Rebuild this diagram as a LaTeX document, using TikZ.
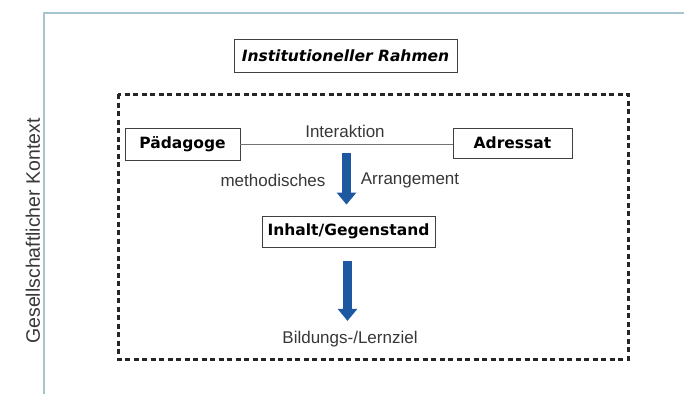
\documentclass[tikz,border=0pt]{standalone}
\usepackage{fontspec}
\setmainfont{Liberation Sans}
\newfontfamily\boxfont{DejaVu Sans}
\usetikzlibrary{arrows.meta}
\definecolor{framecol}{RGB}{165,198,208}
\definecolor{arrowblue}{RGB}{30,88,160}
\definecolor{textgray}{RGB}{55,55,55}

\begin{document}
\begin{tikzpicture}[x=1pt, y=-1pt]
\tikzstyle{box}=[draw=black!75, line width=0.8pt, inner sep=0pt, font=\boxfont\bfseries\fontsize{15.5}{18}\selectfont]
\tikzstyle{label}=[text=textgray, inner sep=1pt, font=\fontsize{17}{20}\selectfont]
\tikzstyle{bigarrow}=[draw=arrowblue, line width=9pt, -{Triangle[width=19pt, length=12pt]}]

\useasboundingbox (0,0) rectangle (684,394);

% Frame
\draw[framecol, line width=1.2pt] (44,394) -- (44,13) -- (684,13);
\node at (33,231) [rotate=90, text=textgray, font=\fontsize{19.5}{22}\selectfont] (kontext) {Gesellschaftlicher Kontext};

% Boxes
\node at (345.5,55.5) [box, minimum width=223pt, minimum height=33pt] (rahmen) {\itshape Institutioneller Rahmen};
\draw[black!85, line width=3pt, dash pattern=on 5pt off 3.5pt] (118,94) rectangle (628,359);
\node at (182.5,144) [box, minimum width=115pt, minimum height=32pt] (paed) {Pädagoge};
\node at (512.5,143) [box, minimum width=119pt, minimum height=30pt] (adressat) {Adressat};
\node at (348.5,231.5) [box, minimum width=173pt, minimum height=31pt] (inhalt) {Inhalt/Gegenstand};

% Text
\node at (345,131) [label] (interaktion) {Interaktion};
\node at (273,180) [label] (method) {methodisches};
\node at (410,180) [label] (arrangement) {Arrangement};
\node at (350,339) [label] (ziel) {Bildungs-/Lernziel};

% Lines
\draw[black!55, line width=0.8pt] (paed.east) -- (paed.east -| adressat.west);
\coordinate (arrowone) at (346.5,153);
\coordinate (arrowtwo) at (347.5,261);
\draw[bigarrow] (arrowone) -- ([yshift=11pt]arrowone |- inhalt.north);
\draw[bigarrow] (arrowtwo) -- ([yshift=9pt]arrowtwo |- ziel.north);
\end{tikzpicture}
\end{document}
